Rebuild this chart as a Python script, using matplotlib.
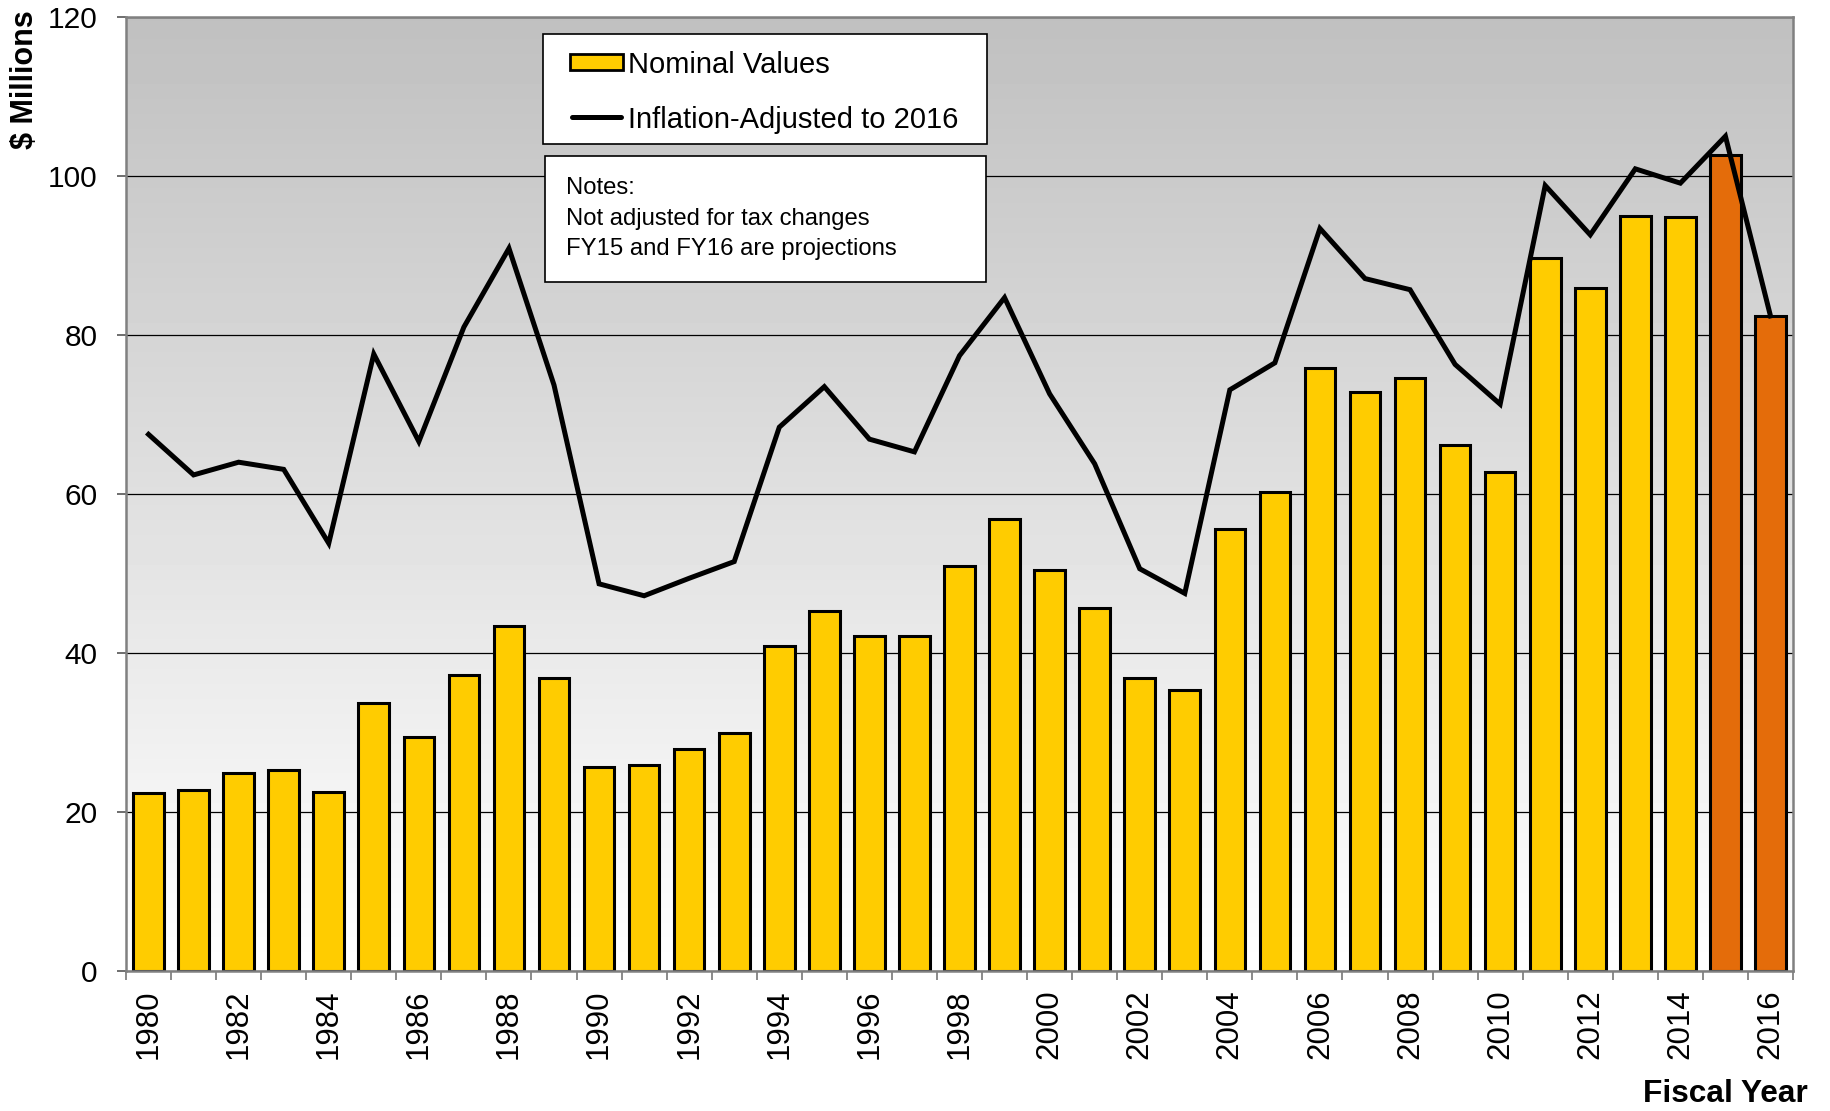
import numpy as np
import matplotlib
matplotlib.use('Agg')
import matplotlib.pyplot as plt
from matplotlib.patches import Rectangle
from matplotlib.lines import Line2D

plt.rcParams['font.family'] = ['Liberation Sans', 'DejaVu Sans']

years = list(range(1980, 2017))
nominal = [22.4, 22.8, 24.9, 25.3, 22.5, 33.7, 29.4, 37.2, 43.4, 36.9,
           25.6, 25.9, 27.9, 30.0, 40.9, 45.3, 42.2, 42.1, 50.9, 56.9,
           50.4, 45.6, 36.8, 35.3, 55.6, 60.3, 75.9, 72.8, 74.6, 66.2,
           62.8, 89.7, 85.9, 95.0, 94.9, 102.6, 82.4]
adjusted = [67.5, 62.4, 64.0, 63.1, 53.8, 77.6, 66.6, 81.0, 90.9, 73.7,
            48.7, 47.2, 49.4, 51.5, 68.4, 73.5, 66.9, 65.3, 77.4, 84.7,
            72.6, 63.8, 50.6, 47.5, 73.1, 76.5, 93.4, 87.1, 85.7, 76.3,
            71.3, 98.8, 92.6, 100.9, 99.1, 105.0, 82.4]
projected_years = [2015, 2016]
notes = ['Notes:', 'Not adjusted for tax changes', 'FY15 and FY16 are projections']

yellow = '#FFCC00'
orange = '#E46C0A'

W, H = 1831, 1111
def fx(px):
    return px / W
def fy(py):
    return 1 - py / H

fig = plt.figure(figsize=(18.31, 11.11), dpi=100)
ax = fig.add_axes([fx(126), fy(971), (1793 - 126) / W, (971 - 17) / H])

# background gradient: grey at top to white at bottom
grad = np.linspace(192, 255, 256).reshape(-1, 1) / 255.0
ax.imshow(np.repeat(grad, 2, axis=1), cmap='gray', vmin=0, vmax=1, origin='upper',
          extent=[0, 1, 0, 1], transform=ax.transAxes, aspect='auto', zorder=0)

x = np.arange(len(years))
colors = [orange if y in projected_years else yellow for y in years]
ax.bar(x, nominal, width=0.68, color=colors, edgecolor='black', linewidth=2.2, zorder=2)
ax.plot(x, adjusted, color='black', linewidth=3.6, zorder=3, solid_joinstyle='miter')

ax.set_xlim(-0.5, len(years) - 0.5)
ax.set_ylim(0, 120)
ax.set_yticks(range(0, 121, 20))
ax.tick_params(axis='y', labelsize=21.5, length=6.5, width=1.2, color='#555555', pad=14)
ax.yaxis.grid(True, color='black', linewidth=0.9)
ax.set_axisbelow(True)

ax.set_xticks(x[::2])
ax.set_xticklabels([str(y) for y in years[::2]], rotation=90, fontsize=22.5)
ax.set_xticks(np.arange(-0.5, len(years), 1), minor=True)
ax.tick_params(axis='x', which='major', length=0, pad=13)
ax.tick_params(axis='x', which='minor', length=6.5, width=1.2, color='#777777')

for s in ax.spines.values():
    s.set_color('#808080')
    s.set_linewidth(1.8)

# legend box drawn by hand
fig.patches.append(Rectangle((fx(543), fy(144)), (987 - 543) / W, (144 - 34) / H,
                             transform=fig.transFigure, facecolor='white',
                             edgecolor='black', linewidth=1.2, zorder=5))
fig.patches.append(Rectangle((fx(570), fy(70)), (623 - 570) / W, 16 / H,
                             transform=fig.transFigure, facecolor=yellow,
                             edgecolor='black', linewidth=2.0, zorder=6))
fig.lines.append(Line2D([fx(572), fx(621)], [fy(117), fy(117)], transform=fig.transFigure,
                        color='black', linewidth=3.6, solid_capstyle='round', zorder=6))
fig.text(fx(628), fy(62), 'Nominal Values', fontsize=21, va='center_baseline', ha='left', zorder=7)
fig.text(fx(628), fy(117), 'Inflation-Adjusted to 2016', fontsize=21,
         va='center_baseline', ha='left', zorder=7)

# notes box
fig.patches.append(Rectangle((fx(545), fy(282)), (986 - 545) / W, (282 - 156) / H,
                             transform=fig.transFigure, facecolor='white',
                             edgecolor='black', linewidth=1.2, zorder=5))
for i, line in enumerate(notes):
    fig.text(fx(566), fy(194 + 30.5 * i), line, fontsize=17.2, va='baseline',
             ha='left', zorder=7)

fig.text(fx(25), fy(10), '$ Millions', rotation=90, fontsize=22,
         fontweight='bold', ha='center', va='top')
fig.text(fx(1808), fy(1102), 'Fiscal Year', fontsize=22.8,
         fontweight='bold', ha='right', va='baseline')

fig.savefig('out.png', dpi=100)
